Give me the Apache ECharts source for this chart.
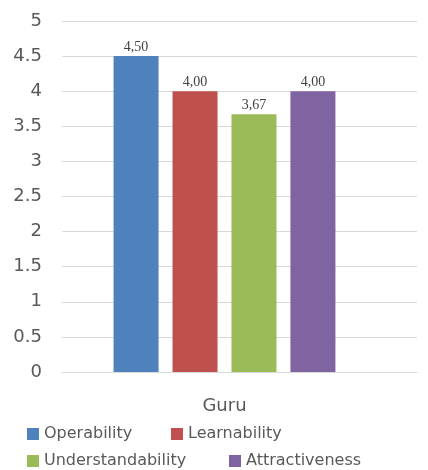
<!DOCTYPE html>
<html>
<head>
<meta charset="utf-8">
<script src="https://cdn.jsdelivr.net/npm/echarts@6/dist/echarts.min.js"></script>
<style>
  html, body { margin: 0; padding: 0; background: #fff; }
  #chart { width: 428px; height: 470px; }
</style>
</head>
<body>
<div id="chart"></div>
<script>
// Mean scores per quality aspect, rated by teachers
const categories = ['Guru'];
const seriesNames = ['Operability', 'Learnability', 'Understandability', 'Attractiveness'];
const operability = [4.5];
const learnability = [4.0];
const understandability = [3.67];
const attractiveness = [4.0];
const yMin = 0;
const yMax = 5;
const yStep = 0.5;

const colors = ['#4F81BD', '#C0504D', '#9BBB59', '#8064A2'];
const valuesBySeries = [operability, learnability, understandability, attractiveness];

const sansFont = 'DejaVu Sans';
const labelGray = '#595959';
const gridGray = '#D9D9D9';

function decimalComma(v) {
  return v.toFixed(2).replace('.', ',');
}

const series = seriesNames.map((name, i) => ({
  name: name,
  type: 'bar',
  xAxisIndex: 1,
  yAxisIndex: 1,
  data: valuesBySeries[i],
  barWidth: 45,
  barGap: '31%',
  itemStyle: { color: colors[i] },
  label: {
    show: true,
    position: 'top',
    distance: 2,
    formatter: p => decimalComma(p.value),
    fontFamily: 'Liberation Serif',
    fontSize: 14,
    color: '#404040'
  }
}));

// One legend box per entry, laid out in two rows
const legendSlots = [
  { left: 27, top: 426 },
  { left: 171, top: 426 },
  { left: 27, top: 453 },
  { left: 229, top: 453 }
];
const legends = seriesNames.map((name, i) => ({
  data: [name],
  left: legendSlots[i].left,
  top: legendSlots[i].top,
  orient: 'horizontal',
  icon: 'rect',
  itemWidth: 12,
  itemHeight: 12,
  padding: 0,
  selectedMode: false,
  textStyle: { fontFamily: sansFont, fontSize: 16, color: labelGray }
}));

const chart = echarts.init(document.getElementById('chart'), null, { renderer: 'canvas' });
chart.setOption({
  animation: false,
  color: colors,
  legend: legends,
  grid: [
    { left: 62, right: 11, top: 21, bottom: 98 },
    { left: 62, width: 325, top: 21, bottom: 98 }
  ],
  xAxis: [
    {
      type: 'category',
      gridIndex: 0,
      data: categories,
      axisLine: { show: true, lineStyle: { color: gridGray, width: 1 } },
      axisTick: { show: false },
      axisLabel: { show: false }
    },
    {
      type: 'category',
      gridIndex: 1,
      data: categories,
      axisLine: { show: false },
      axisTick: { show: false },
      axisLabel: {
        margin: 25,
        fontFamily: sansFont,
        fontSize: 18,
        color: labelGray
      }
    }
  ],
  yAxis: [
    {
      type: 'value',
      gridIndex: 0,
      min: yMin,
      max: yMax,
      interval: yStep,
      axisLine: { show: false },
      axisTick: { show: false },
      axisLabel: {
        margin: 20,
        fontFamily: sansFont,
        fontSize: 18,
        color: labelGray
      },
      splitLine: { show: true, lineStyle: { color: gridGray, width: 1 } }
    },
    {
      type: 'value',
      gridIndex: 1,
      min: yMin,
      max: yMax,
      interval: yStep,
      show: false,
      splitLine: { show: false }
    }
  ],
  series: series
});
</script>
</body>
</html>
